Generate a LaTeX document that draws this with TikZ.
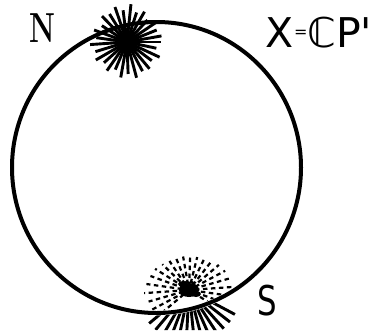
\documentclass[tikz,border=0pt]{standalone}
\usepackage{fontspec}
\newfontfamily\handfont{DejaVu Sans}
\usetikzlibrary{calc}
\begin{document}
\begin{tikzpicture}[x=1pt,y=-1pt,
  rim/.style={line width=4pt},
  ray/.style={line width=2.9pt},
  dray/.style={line width=2.2pt, dash pattern=on 4.5pt off 3.5pt},
  lbl/.style={inner sep=0pt}]
\useasboundingbox (0,0) rectangle (377,330);
\coordinate (O) at (156.5,167.5);
\coordinate (NB) at (127,42);
\coordinate (SB) at (189,290);
% sphere
\draw[rim] (O) ellipse [x radius=144.5pt, y radius=145.5pt];
% north burst
\foreach \a/\l in {0/34, 12/30, 25/36, 37/31, 50/35, 62/33, 75/37, 88/32, 100/36, 113/30, 125/35, 138/31, 150/36, 163/33, 176/37, 188/31, 200/35, 213/30, 226/36, 238/33, 251/37, 263/32, 276/38, 288/31, 300/35, 313/30, 326/36, 338/32, 350/35}
  \draw[ray] ($(NB)+(\a:3)$) -- ($(NB)+(\a:\l)$);
\fill (NB) circle [radius=9pt];
% south burst: dashed rays inside
\begin{scope}
  \clip (O) ellipse [x radius=142pt, y radius=143pt];
  \foreach \a/\l/\p in {140/40/0, 152/44/2, 164/42/1, 176/45/3, 188/43/0, 200/41/2, 212/40/1, 224/37/3, 236/35/0, 248/34/2, 260/34/1, 272/33/3, 284/34/0, 296/35/2, 308/37/1, 320/39/3, 332/41/0, 344/42/2, 356/43/1, 8/42/3, 20/40/0, 32/38/2}
    \draw[dray, dash phase=\p pt] ($(SB)+(\a:7)$) -- ($(SB)+(\a:\l)$);
\end{scope}
\fill (SB) ellipse [x radius=10pt, y radius=7pt];
\fill ($(SB)+(-6,-6)$) ellipse [x radius=5pt, y radius=3pt];
\fill ($(SB)+(7,4)$) ellipse [x radius=5pt, y radius=3pt];
% south burst: solid rays outside
\begin{scope}[even odd rule]
  \clip (0,0) rectangle (377,330) (O) ellipse [x radius=147pt, y radius=148pt];
  \foreach \a in {28,38,48,57,66,75,84,93,102,111,120,130,140}
    \draw[ray] ($(SB)+(\a:10)$) -- ($(SB)+(\a:52)$);
\end{scope}
% labels
\node[lbl, font=\bfseries\fontsize{42}{42}\selectfont, xscale=0.7] (n) at (42,28) {N};
\node[lbl, font=\handfont\fontsize{41}{41}\selectfont] (x) at (319,33) {X\raisebox{10pt}{\fontsize{16}{16}\selectfont=}ℂP'};
\node[lbl, font=\handfont\fontsize{41}{41}\selectfont, xscale=0.75] (s) at (267,301) {S};
\end{tikzpicture}
\end{document}
